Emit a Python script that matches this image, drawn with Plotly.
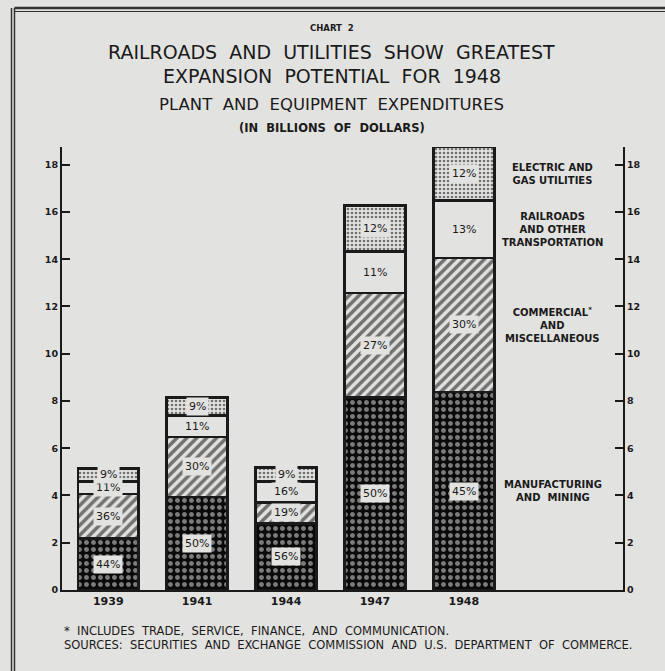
import plotly.graph_objects as go

years = ["1939", "1941", "1944", "1947", "1948"]
manufacturing = [2.18, 3.94, 2.82, 8.14, 8.38]
commercial = [1.88, 2.54, 0.88, 4.44, 5.68]
railroads = [0.54, 0.91, 0.90, 1.74, 2.42]
utilities = [0.54, 0.75, 0.58, 1.95, 2.28]

pct_manufacturing = ["44%", "50%", "56%", "50%", "45%"]
pct_commercial = ["36%", "30%", "19%", "27%", "30%"]
pct_railroads = ["11%", "11%", "16%", "11%", "13%"]
pct_utilities = ["9%", "9%", "9%", "12%", "12%"]

S = " \u00a0"  # double word spacing like the hand lettering
series_labels = ["MANUFACTURING<br>AND" + S + "MINING",
                 "COMMERCIAL<sup>*</sup><br>AND<br>MISCELLANEOUS",
                 "RAILROADS<br>AND OTHER<br>TRANSPORTATION",
                 "ELECTRIC AND<br>GAS UTILITIES"]

y_ticks = [0, 2, 4, 6, 8, 10, 12, 14, 16, 18]

PAPER = "#e2e2e0"
INK = "#1a1a1a"
FONT = "DejaVu Sans"

fig = go.Figure()

series = [
    (manufacturing, dict(shape=".", bgcolor="#0a0a0a", fgcolor="#ececea", size=7, solidity=0.4), pct_manufacturing),
    (commercial, dict(shape="/", bgcolor=PAPER, fgcolor="#000000", size=7, solidity=0.5), pct_commercial),
    (railroads, dict(shape="", bgcolor=PAPER, fgcolor=INK), pct_railroads),
    (utilities, dict(shape=".", bgcolor=PAPER, fgcolor="#000000", size=4, solidity=0.35), pct_utilities),
]

for vals, pat, _ in series:
    fig.add_trace(go.Bar(
        x=years, y=vals, width=0.685,
        marker=dict(color=PAPER, pattern=pat, line=dict(color=INK, width=2.5)),
        showlegend=False, hoverinfo="skip",
    ))

# invisible trace so the right-hand axis is drawn
fig.add_trace(go.Scatter(x=years, y=manufacturing, yaxis="y2", mode="markers",
                         marker=dict(opacity=0), showlegend=False, hoverinfo="skip"))

# percent labels at segment midpoints
base = [0.0] * len(years)
mids_last = []
for vals, _, labels in series:
    mids = [b + v / 2 for b, v in zip(base, vals)]
    for i in range(len(years)):
        fig.add_annotation(x=i, y=mids[i], xref="x", yref="y", text=labels[i],
                           showarrow=False, bgcolor=PAPER, borderpad=2,
                           font=dict(family=FONT, size=11, color=INK))
    mids_last.append(mids[-1])
    base = [b + v for b, v in zip(base, vals)]

# category labels on the right, aligned with the 1948 bar segments
for lab, ym in zip(series_labels, mids_last):
    fig.add_annotation(x=5.0, y=ym, xref="x", yref="y", text=lab, showarrow=False,
                       align="center", font=dict(family=FONT, size=10, color=INK, weight="bold"))

def title(text, y, size, bold=False):
    fig.add_annotation(x=0.481, y=y, xref="paper", yref="paper", text=text, showarrow=False,
                       yanchor="middle",
                       font=dict(family=FONT, size=size, color=INK, weight="bold" if bold else "normal"))

title("CHART" + S + "2", 1.2686, 8.5, True)
title(S.join(["RAILROADS", "AND", "UTILITIES", "SHOW", "GREATEST"]), 1.2144, 19)
title(S.join(["EXPANSION", "POTENTIAL", "FOR", "1948"]), 1.1603, 19)
title(S.join(["PLANT", "AND", "EQUIPMENT", "EXPENDITURES"]), 1.097, 16.5)
title(S.join(["(IN", "BILLIONS", "OF", "DOLLARS)"]), 1.043, 11.5, True)

# footnotes
fig.add_annotation(x=0.0, y=-0.0926, xref="paper", yref="paper", xanchor="left", yanchor="middle",
                   text="*" + S + S.join(["INCLUDES", "TRADE,", "SERVICE,", "FINANCE,", "AND", "COMMUNICATION."]),
                   showarrow=False, font=dict(family=FONT, size=11.5, color=INK))
fig.add_annotation(x=0.0, y=-0.124, xref="paper", yref="paper", xanchor="left", yanchor="middle",
                   text=S.join(["SOURCES:", "SECURITIES", "AND", "EXCHANGE", "COMMISSION", "AND",
                                "U.S.", "DEPARTMENT", "OF", "COMMERCE."]),
                   showarrow=False, font=dict(family=FONT, size=11.5, color=INK))

# double frame (top and left)
for yy, w in [(1.3138, 2.5), (1.3059, 1.2)]:
    fig.add_shape(type="line", xref="paper", yref="paper", x0=-0.0847, x1=1.08, y0=yy, y1=yy,
                  line=dict(color="#333", width=w))
for xx in [-0.09, -0.0847]:
    fig.add_shape(type="line", xref="paper", yref="paper", x0=xx, x1=xx, y0=1.3138, y1=-0.19,
                  line=dict(color="#333", width=1.5))

axis_common = dict(range=[0, 18.75], tickvals=y_ticks, ticks="inside", ticklen=8, tickwidth=1.5,
                   tickcolor=INK, showline=True, linecolor=INK, linewidth=2, showgrid=False,
                   zeroline=False, tickfont=dict(family=FONT, size=9.5, color=INK, weight="bold"))

fig.update_layout(
    width=665, height=671,
    margin=dict(l=62, r=42, t=147, b=81),
    paper_bgcolor=PAPER, plot_bgcolor=PAPER,
    barmode="stack",
    xaxis=dict(type="category", range=[-0.52, 5.79], showline=True, linecolor=INK, linewidth=2,
               ticks="", showgrid=False,
               tickfont=dict(family=FONT, size=11, color=INK, weight="bold")),
    yaxis=dict(side="left", **axis_common),
    yaxis2=dict(side="right", overlaying="y", anchor="x", **axis_common),
)

fig.write_html("out.html", config={"displayModeBar": False},
               post_script="document.body.style.margin='0';document.body.style.background='%s';" % PAPER)
